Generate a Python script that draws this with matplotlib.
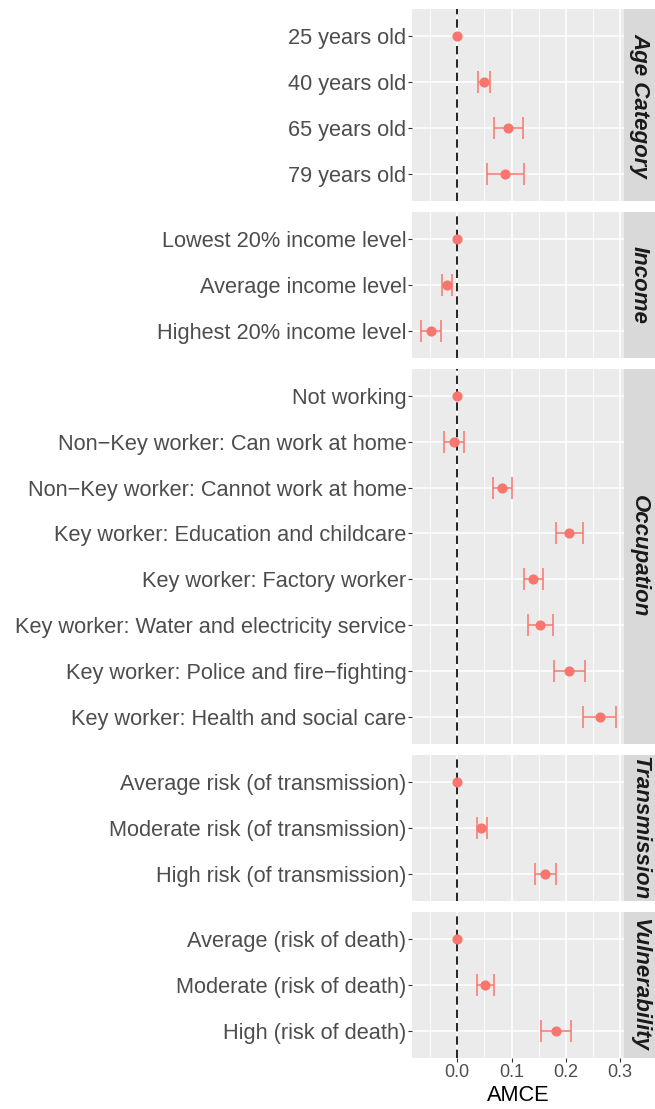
import matplotlib
matplotlib.use("Agg")
import matplotlib.pyplot as plt
from matplotlib.patches import Rectangle

plt.rcParams['font.family'] = ['Liberation Sans', 'DejaVu Sans']

# ---- data ----
groups = ["Age Category", "Income", "Occupation", "Transmission", "Vulnerability"]

age_labels = ["25 years old", "40 years old", "65 years old", "79 years old"]
age_est = [0.0, 0.050, 0.093, 0.088]
age_lo = [0.0, 0.039, 0.068, 0.055]
age_hi = [0.0, 0.061, 0.121, 0.123]

income_labels = ["Lowest 20% income level", "Average income level", "Highest 20% income level"]
income_est = [0.0, -0.018, -0.049]
income_lo = [0.0, -0.028, -0.066]
income_hi = [0.0, -0.010, -0.030]

occ_labels = ["Not working",
              "Non\u2212Key worker: Can work at home",
              "Non\u2212Key worker: Cannot work at home",
              "Key worker: Education and childcare",
              "Key worker: Factory worker",
              "Key worker: Water and electricity service",
              "Key worker: Police and fire\u2212fighting",
              "Key worker: Health and social care"]
occ_est = [0.0, -0.006, 0.083, 0.206, 0.140, 0.153, 0.206, 0.262]
occ_lo = [0.0, -0.024, 0.066, 0.181, 0.123, 0.131, 0.178, 0.232]
occ_hi = [0.0, 0.012, 0.100, 0.231, 0.157, 0.176, 0.235, 0.293]

trans_labels = ["Average risk (of transmission)", "Moderate risk (of transmission)",
                "High risk (of transmission)"]
trans_est = [0.0, 0.044, 0.161]
trans_lo = [0.0, 0.037, 0.144]
trans_hi = [0.0, 0.054, 0.181]

vuln_labels = ["Average (risk of death)", "Moderate (risk of death)", "High (risk of death)"]
vuln_est = [0.0, 0.051, 0.182]
vuln_lo = [0.0, 0.036, 0.155]
vuln_hi = [0.0, 0.067, 0.209]

x_ticks = [0.0, 0.1, 0.2, 0.3]
x_tick_labels = ["0.0", "0.1", "0.2", "0.3"]
x_minor = [-0.05, 0.05, 0.15, 0.25]

panels = [
    (age_labels, age_est, age_lo, age_hi),
    (income_labels, income_est, income_lo, income_hi),
    (occ_labels, occ_est, occ_lo, occ_hi),
    (trans_labels, trans_est, trans_lo, trans_hi),
    (vuln_labels, vuln_est, vuln_lo, vuln_hi),
]

# ---- layout ----
W, H = 655, 1109
fig = plt.figure(figsize=(W / 100, H / 100), dpi=100)

left_px, right_px = 412, 624
top_px, bottom_px = 9, 1058
gap_px = 10.5
units = [len(p[0]) + 0.2 for p in panels]
total_units = sum(units)
unit_px = (bottom_px - top_px - gap_px * (len(panels) - 1)) / total_units

pt_color = "#F8766D"
xlim = (-0.0833, 0.307)
strip_w_px = 31
lab_size = 15.7

y = top_px
for gi, (labels, est, lo, hi) in enumerate(panels):
    h = units[gi] * unit_px
    ax = fig.add_axes([left_px / W, 1 - (y + h) / H, (right_px - left_px) / W, h / H])
    n = len(labels)
    pos = list(range(n))
    ax.set_facecolor("#EBEBEB")
    ax.set_xlim(*xlim)
    ax.set_ylim(n - 1 + 0.6, -0.6)
    ax.set_xticks(x_ticks)
    ax.set_xticks(x_minor, minor=True)
    ax.set_yticks(pos)
    ax.set_yticklabels(labels)
    ax.grid(True, which="major", color="white", linewidth=1.1)
    ax.grid(True, which="minor", axis="x", color="white", linewidth=0.55)
    ax.set_axisbelow(True)
    for s in ax.spines.values():
        s.set_visible(False)
    ax.tick_params(axis="y", which="major", length=3.0, width=0.8, color="#333333",
                   labelsize=lab_size, labelcolor="#4D4D4D", pad=1.0)
    ax.tick_params(axis="x", which="minor", length=0)
    if gi == len(panels) - 1:
        ax.set_xticklabels(x_tick_labels)
        ax.tick_params(axis="x", which="major", length=3.0, width=0.8, color="#333333",
                       labelsize=13.0, labelcolor="#4D4D4D", pad=1.5)
        ax.set_xlabel("AMCE", fontsize=lab_size, color="black", labelpad=3)
    else:
        ax.tick_params(axis="x", which="major", length=0, labelbottom=False)

    ax.axvline(0, color="black", linestyle=(0, (5, 3)), linewidth=1.2, zorder=2)
    for i in range(n):
        if hi[i] != lo[i]:
            ax.errorbar([est[i]], [pos[i]], xerr=[[est[i] - lo[i]], [hi[i] - est[i]]],
                        fmt="none", ecolor=pt_color, elinewidth=1.1, capsize=8,
                        capthick=1.1, zorder=3)
    ax.plot(est, pos, "o", color=pt_color, markersize=6.3, zorder=4, linestyle="none")

    # strip
    sw = strip_w_px / (right_px - left_px)
    ax.add_patch(Rectangle((1.0, 0.0), sw, 1.0, transform=ax.transAxes,
                           facecolor="#D9D9D9", edgecolor="none", clip_on=False))
    ax.text(1.0 + sw / 2, 0.5, groups[gi], transform=ax.transAxes, rotation=-90,
            ha="center", va="center", fontsize=16.0, fontweight="bold",
            fontstyle="italic", color="#1A1A1A")
    y += h + gap_px

fig.savefig("out.png", dpi=100)
